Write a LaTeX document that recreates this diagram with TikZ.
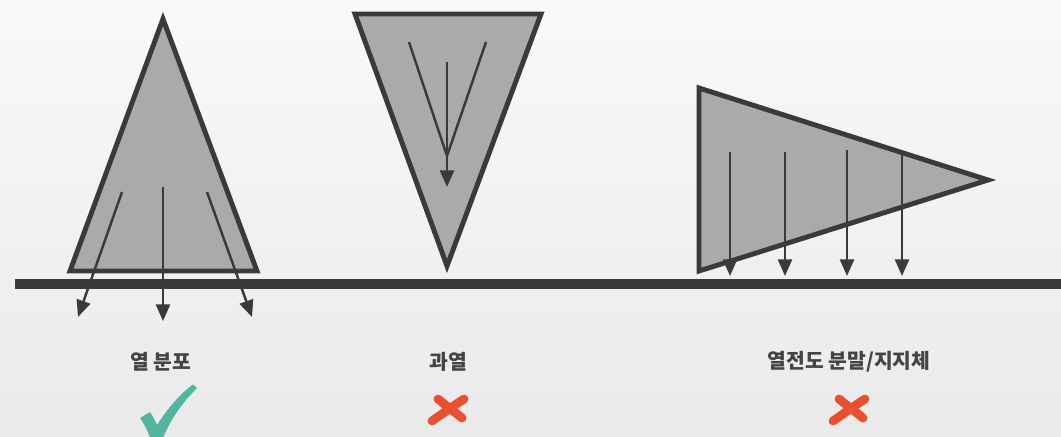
\documentclass[tikz,border=0pt]{standalone}
\usepackage{fontspec}
\newfontfamily\krfont{Noto Sans CJK KR}
\usetikzlibrary{arrows.meta}
\definecolor{bgtop}{RGB}{249,249,249}
\definecolor{bgbot}{RGB}{234,234,234}
\definecolor{inkdark}{RGB}{58,58,58}
\definecolor{conegray}{RGB}{171,169,172}
\definecolor{okteal}{RGB}{80,182,158}
\definecolor{badred}{RGB}{234,80,46}
\definecolor{labelgray}{RGB}{68,68,68}

\begin{document}
\begin{tikzpicture}[x=0.02cm, y=-0.02cm,
  cone/.style={draw=inkdark, fill=conegray, line width=2.8pt, line join=miter},
  heat/.style={draw=inkdark, line width=1.4pt, -{Triangle[length=9.5pt,width=8pt]}},
  flow/.style={draw=inkdark, line width=1.4pt},
  lbl/.style={font=\krfont\bfseries\fontsize{11.6}{14}\selectfont, text=labelgray},
  crossmark/.pic={
    \draw[badred, line width=5pt, line cap=round] (-9,-10) .. controls (2,-1) and (8,3) .. (15,9);
    \draw[badred, line width=5pt, line cap=round] (17,-10) .. controls (5,-2) .. (-15,12);
  },
]
% background
\fill[top color=bgtop, bottom color=bgbot] (0,0) rectangle (1061,436);
\useasboundingbox (0,0) rectangle (1061,436);

% ground
\fill[inkdark] (15,279) rectangle (1061,289);

% cone pointing up: heat spreads
\draw[cone] (163,19) -- (257,271) -- (70,271) -- cycle;
\draw[heat] (122,192) -- (78,317);
\draw[heat] (163,187) -- (163,321);
\draw[heat] (207,192) -- (252,317);

% cone pointing down: overheating
\draw[cone] (355,14) -- (541,14) -- (447,266) -- cycle;
\draw[flow] (409,42) -- (447,156) -- (486,42);
\draw[heat] (447,62) -- (447,187);

% cone lying on its side: conductive powder / support
\draw[cone] (699,88) -- (988,180) -- (699,271) -- cycle;
\draw[heat] (730,152) -- (730,276);
\draw[heat] (785,152) -- (785,276);
\draw[heat] (847,150) -- (847,276);
\draw[heat] (902,155) -- (902,276);

% labels
\node[lbl] (spread) at (161,362) {열 분포};
\node[lbl] (hot) at (448,362) {과열};
\node[lbl] (powder) at (849,362) {열전도 분말/지지체};

% verdicts
\fill[okteal] (140,418) -- (150,412) .. controls (153,416) and (155,421) .. (157,425)
  .. controls (168,408) and (180,394) .. (193,384.5) -- (197,388)
  .. controls (183,402) and (171,418) .. (162,440) -- (151,440)
  .. controls (148,432) and (145,425) .. (140,418) -- cycle;
\pic at (447,409) {crossmark};
\pic at (848,409) {crossmark};
\end{tikzpicture}
\end{document}
